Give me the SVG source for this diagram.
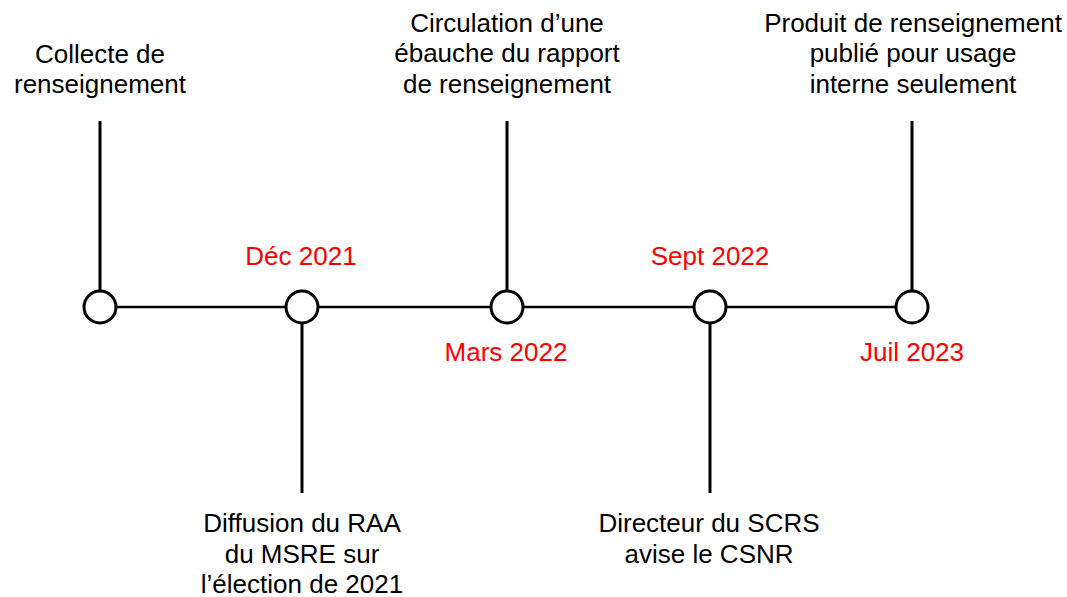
<svg xmlns="http://www.w3.org/2000/svg" width="1067" height="597" viewBox="0 0 1067 597">
<style>
.t{font-family:"Liberation Sans",Arial,sans-serif;font-size:26px;fill:#000;text-anchor:middle}
.d{font-family:"Liberation Sans",Arial,sans-serif;font-size:26px;fill:#ff0000;text-anchor:middle}
.ln{stroke:#000;stroke-width:3;fill:none}
.ax{stroke:#000;stroke-width:2.5;fill:none}
.n{fill:#fff;stroke:#000;stroke-width:3}
</style>
<rect width="1067" height="597" fill="#fff"/>
<g id="connectors">
<line class="ax" x1="100" y1="307" x2="912" y2="307"/>
<line class="ln" x1="100" y1="121" x2="100" y2="291"/>
<line class="ln" x1="302" y1="323" x2="302" y2="493"/>
<line class="ln" x1="507" y1="121" x2="507" y2="291"/>
<line class="ln" x1="710" y1="323" x2="710" y2="493"/>
<line class="ln" x1="912" y1="121" x2="912" y2="291"/>
</g>
<g id="n1">
<circle class="n" cx="100" cy="307" r="16"/>
<text class="t" x="100" y="63">Collecte de</text>
<text class="t" x="100" y="93">renseignement</text>
</g>
<g id="n2">
<circle class="n" cx="302" cy="307" r="16"/>
<text class="d" x="301" y="265">Déc 2021</text>
<text class="t" x="302" y="532">Diffusion du RAA</text>
<text class="t" x="302" y="563">du MSRE sur</text>
<text class="t" x="302" y="593">l’élection de 2021</text>
</g>
<g id="n3">
<circle class="n" cx="507" cy="307" r="16"/>
<text class="d" x="506" y="361">Mars 2022</text>
<text class="t" x="507" y="32">Circulation d’une</text>
<text class="t" x="507" y="62">ébauche du rapport</text>
<text class="t" x="507" y="93">de renseignement</text>
</g>
<g id="n4">
<circle class="n" cx="710" cy="307" r="16"/>
<text class="d" x="710" y="265">Sept 2022</text>
<text class="t" x="709" y="532">Directeur du SCRS</text>
<text class="t" x="709" y="563">avise le CSNR</text>
</g>
<g id="n5">
<circle class="n" cx="912" cy="307" r="16"/>
<text class="d" x="912" y="361">Juil 2023</text>
<text class="t" x="913" y="32">Produit de renseignement</text>
<text class="t" x="913" y="62">publié pour usage</text>
<text class="t" x="913" y="93">interne seulement</text>
</g>
</svg>
